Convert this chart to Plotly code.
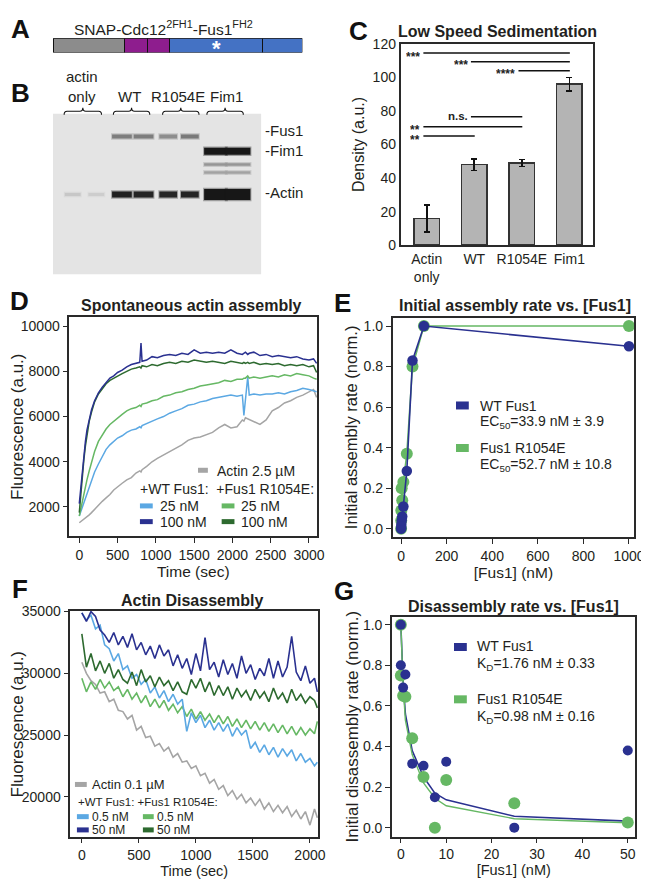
import plotly.graph_objects as go

W, H = 649, 879
FONT = "Liberation Sans, Arial, sans-serif"
INK = "#231f20"


def px(x):
    return x / W


def py(y):
    return 1 - y / H


# ---------------- DATA ----------------
# Panel A: construct domains (relative lengths)
domain_names = ["SNAP", "Cdc12 FH1 a", "Cdc12 FH1 b", "Fus1 FH2 a", "Fus1 FH2 b"]
domain_lengths = [72.6, 23.4, 22.6, 94.0, 40.7]
domain_colors = ["#8c8c8c", "#8e1d8e", "#8e1d8e", "#4472c4", "#4472c4"]

# Panel B: gel (lanes, bands)
lane_group_labels = ["actin<br>only", "WT", "R1054E", "Fim1"]
band_labels = ["-Fus1", "-Fim1", "-Actin"]
lane_x = [20, 44, 70, 92, 117, 139, 165, 188]
lane_w = [16, 16, 20, 20, 18, 18, 23, 25]
fus1_lanes = [2, 3, 4, 5]
fus1_strength = [0.50, 0.50, 0.42, 0.52]
fim1_lanes = [6, 7]
fim1_strength = [1.0, 1.0]
minor_lanes = [6, 7, 6, 7]
minor_rf = [52, 52, 60, 60]
minor_strength = [0.38, 0.38, 0.32, 0.32]
actin_lanes = [0, 1, 2, 3, 4, 5, 6, 7]
actin_strength = [0.14, 0.11, 0.95, 0.93, 0.92, 0.93, 1.0, 1.0]
rf_fus1, rf_fim1, rf_actin = 23.5, 38.5, 82.5

# Panel C: low speed sedimentation
c_labels = ["Actin<br>only", "WT", "R1054E", "Fim1"]
c_values = [16, 48, 49, 96]
c_err = [8, 3.5, 2, 4]
sig_text = ["***", "***", "****", "n.s.", "**", "**"]
sig_from = [0, 1, 2, 1, 0, 0]
sig_to = [3, 3, 3, 2, 2, 1]
sig_y = [114.5, 109.3, 104, 76.5, 70.6, 65]

# Panel D: spontaneous actin assembly (time in s, fluorescence a.u.)
t_d = [0, 20, 40, 60, 80, 100, 130, 160, 200, 250, 300, 350, 400, 450, 500, 560, 620, 680, 740, 790,
       806, 820, 880, 950, 1020, 1100, 1180, 1260, 1340, 1420, 1500, 1580, 1660, 1740, 1820, 1900,
       1980, 2060, 2130, 2150, 2170, 2200, 2220, 2280, 2360, 2440, 2520, 2600, 2680, 2760, 2840,
       2920, 3000, 3060, 3100]
d_actin = [1300, 1350, 1400, 1450, 1500, 1550, 1650, 1750, 1900, 2100, 2250, 2400, 2550, 2750, 2900,
           3050, 3200, 3300, 3500, 3600, 3550, 3650, 3800, 4000, 4150, 4300, 4450, 4600, 4750, 4950,
           5050, 5100, 5200, 5300, 5500, 5650, 5500, 5550, 5850, 5800, 5950, 5900, 5850, 5750, 5650,
           5850, 6250, 6400, 6600, 6700, 6850, 6950, 7100, 7200, 6850]
d_wt25 = [1600, 1800, 2050, 2250, 2400, 2600, 2900, 3200, 3550, 3900, 4250, 4550, 4750, 4900, 5050,
          5150, 5300, 5400, 5450, 5550, 5500, 5600, 5700, 5800, 5900, 6000, 6150, 6250, 6350, 6500,
          6550, 6650, 6700, 6800, 6850, 6900, 6950, 6900, 6950, 6050, 6900, 7750, 6950, 7000, 6950,
          7000, 7000, 7050, 7000, 7100, 7150, 7250, 7200, 7150, 7100]
d_wt100 = [2150, 2900, 3700, 4400, 4900, 5400, 5900, 6300, 6700, 7050, 7300, 7500, 7700, 7800, 7950,
           8050, 8200, 8300, 8350, 8400, 9250, 8450, 8500, 8650, 8600, 8700, 8750, 8700, 8800, 8750,
           8950, 8800, 8850, 8800, 8850, 8800, 8950, 8800, 8750, 8800, 8850, 8750, 8800, 8850, 8700,
           8750, 8650, 8700, 8650, 8600, 8650, 8550, 8500, 8550, 8350]
d_mut25 = [1600, 1950, 2300, 2600, 2900, 3200, 3600, 3950, 4450, 4900, 5200, 5450, 5650, 5800, 5950,
           6100, 6250, 6350, 6400, 6500, 6450, 6550, 6600, 6700, 6750, 6900, 6950, 7050, 7100, 7200,
           7250, 7350, 7400, 7450, 7500, 7600, 7550, 7650, 7650, 7700, 7700, 7800, 7700, 7750, 7700,
           7750, 7800, 7750, 7850, 7800, 7900, 7850, 7800, 7700, 7650]
d_mut100 = [1750, 2600, 3400, 4100, 4700, 5200, 5800, 6200, 6650, 7000, 7250, 7450, 7600, 7700, 7800,
            7900, 8000, 8100, 8150, 8200, 8150, 8250, 8200, 8300, 8250, 8350, 8400, 8350, 8450, 8400,
            8500, 8450, 8400, 8450, 8400, 8350, 8450, 8400, 8350, 8400, 8350, 8400, 8350, 8400, 8300,
            8350, 8300, 8350, 8250, 8300, 8250, 8300, 8200, 8250, 7950]

# Panel E: initial assembly rate vs [Fus1]
e_x = [0, 0.5, 1, 2.5, 5, 10, 25, 50, 100, 1000]
e_wt = [0.0, 0.005, 0.02, 0.04, 0.06, 0.11, 0.285, 0.83, 1.0, 0.90]
e_mut = [0.0, 0.04, 0.09, 0.20, 0.14, 0.23, 0.37, 0.80, 1.0, 1.0]

# Panel F: actin disassembly
t_f = [0, 40, 80, 120, 160, 200, 240, 280, 320, 360, 400, 440, 480, 520, 560, 600, 640, 680, 720, 760,
       800, 840, 880, 920, 960, 1000, 1040, 1080, 1120, 1160, 1200, 1240, 1280, 1320, 1360, 1400,
       1440, 1480, 1520, 1560, 1600, 1640, 1680, 1720, 1760, 1800, 1840, 1880, 1920, 1960, 2000,
       2040, 2065]
f_actin = [30900, 30000, 29400, 29100, 28400, 28500, 27700, 27900, 27000, 26900, 26300, 26600, 25400,
           25700, 24800, 24900, 24100, 24300, 23700, 24000, 23200, 23500, 22800, 22900, 22300, 22500,
           21700, 21900, 21100, 21400, 20600, 20900, 20100, 20500, 19800, 20200, 19500, 19900, 19300,
           19800, 19000, 19500, 18800, 19300, 18700, 19200, 18400, 18900, 18200, 18800, 17700, 19000,
           18300]
f_wt05 = [34900, 34300, 34700, 33600, 33900, 32300, 32000, 31000, 31600, 30300, 30600, 29600, 29900,
          29100, 29500, 28400, 28900, 28000, 28600, 27700, 28300, 27500, 27900, 25300, 26800, 26000,
          26600, 25600, 26200, 25400, 26000, 25300, 25900, 24900, 25600, 25000, 25400, 23900, 24400,
          23600, 24200, 23400, 24000, 23200, 23900, 23300, 23800, 22900, 23500, 22800, 23100, 22500,
          22800]
f_wt50 = [34900, 34200, 35000, 34600, 33500, 33100, 32500, 33300, 32300, 33000, 32100, 33200, 31900,
          32500, 31500, 32200, 31200, 32300, 31400, 31900, 30600, 31500, 30400, 31200, 29900, 31600,
          30200, 32900, 30300, 30900, 29700, 31100, 29900, 30800, 29600, 31400, 30000, 30700, 29500,
          30400, 29800, 31200, 29600, 31000, 29700, 30500, 33000, 30100, 29400, 30600, 29200, 29600,
          28500]
f_mut05 = [29600, 28500, 29300, 28700, 29500, 28800, 29300, 28600, 28900, 28100, 28700, 27900, 28400,
           27600, 28200, 27300, 27900, 27200, 27800, 27000, 27500, 26800, 27300, 26500, 27100, 26300,
           26900, 26200, 26700, 26000, 26600, 25900, 26500, 25700, 26300, 25600, 26200, 25500, 26100,
           25400, 26000, 25300, 25900, 25200, 25800, 25100, 25700, 25000, 25600, 25000, 25500, 25100,
           26100]
f_mut50 = [33200, 30500, 31600, 30200, 31000, 30000, 30800, 29600, 30300, 29500, 29200, 30100, 29000,
           30300, 29300, 29800, 28900, 29700, 29000, 29400, 28600, 29300, 28500, 28300, 29500, 28800,
           29600, 28500, 29300, 28200, 29000, 28200, 28900, 27900, 28800, 28100, 28600, 27800, 28700,
           28000, 28500, 27700, 28800, 27900, 28400, 27600, 28700, 27800, 28300, 27600, 28100, 27800,
           27200]

# Panel G: disassembly rate vs [Fus1]
g_x = [0, 0, 0.5, 1, 2.5, 5, 7.5, 10, 25, 50]
g_wt = [1.0, 0.80, 0.69, 0.755, 0.315, 0.305, 0.15, 0.325, 0.0, 0.38]
g_mut = [1.0, 0.75, 0.65, 0.645, 0.44, 0.25, 0.0, 0.235, 0.12, 0.025]
g_fit_x = [0, 0.5, 1, 2.5, 5, 7.5, 10, 25, 50]
g_fit_wt = [1.0, 0.72, 0.56, 0.38, 0.25, 0.17, 0.137, 0.056, 0.032]
g_fit_mut = [1.0, 0.70, 0.53, 0.36, 0.22, 0.145, 0.108, 0.044, 0.024]

# ---------------- STYLE ----------------
GRAY = "#a5a5a5"
LBLUE = "#5ba8e3"
DBLUE = "#2a3190"
LGREEN = "#66b864"
DGREEN = "#2d6a2f"
FRAME = "#2a2a2a"

fig = go.Figure()
annotations = []
shapes = []


def ann(text, x, y, size=14, bold=False, xanchor="center", yanchor="middle", color=INK, **kw):
    if bold:
        text = "<b>" + text + "</b>"
    annotations.append(dict(text=text, x=px(x), y=py(y), xref="paper", yref="paper",
                            showarrow=False, xanchor=xanchor, yanchor=yanchor,
                            font=dict(family=FONT, size=size, color=color), **kw))


def pill(x0, x1, y, color, width):
    shapes.append(dict(type="line", xref="paper", yref="paper", x0=px(x0), x1=px(x1),
                       y0=py(y), y1=py(y), line=dict(color=color, width=width)))


def axis(domain, rng, **kw):
    d = dict(domain=domain, range=rng, showline=True, mirror=True, linecolor=FRAME, linewidth=1.6,
             ticks="outside", ticklen=5, tickwidth=1.3, tickcolor=FRAME, showgrid=False,
             zeroline=False, tickfont=dict(family=FONT, size=14, color=INK))
    d.update(kw)
    return d


def xdom(a, b):
    return [px(a), px(b)]


def ydom(top, bottom):
    return [py(bottom), py(top)]


# ---------- Panel A: construct bar ----------
for name, length, col in zip(domain_names, domain_lengths, domain_colors):
    fig.add_trace(go.Bar(x=[length], y=[0], orientation="h", name=name,
                         marker=dict(color=col, line=dict(color="#111", width=1.3)),
                         width=1.0, xaxis="x6", yaxis="y6", hoverinfo="skip"))
star_x = sum(domain_lengths[:3]) + domain_lengths[3] / 2
annotations.append(dict(text="<b>*</b>", x=star_x, y=-0.18, xref="x6", yref="y6", showarrow=False,
                        font=dict(family=FONT, size=22, color="white"), xanchor="center", yanchor="middle"))
annotations.append(dict(text="(R1054E)", x=star_x, y=-1.55, xref="x6", yref="y6", showarrow=False,
                        font=dict(family=FONT, size=13, color="#333"), xanchor="center", yanchor="middle"))
ann("SNAP-Cdc12<sup>2FH1</sup>-Fus1<sup>FH2</sup>", 158, 12, size=15.5)

# ---------- Panel B: gel ----------
shapes.append(dict(type="rect", xref="x7", yref="y7", x0=0, x1=211.6, y0=0, y1=164,
                   fillcolor="#e4e4e4", line=dict(width=0), layer="below"))


def band(lane, rf, strength, thick):
    g = int(228 - strength * 205)
    col = "rgb(%d,%d,%d)" % (g, g, g)
    halo = "rgba(%d,%d,%d,0.35)" % (g, g, g)
    cx, w = lane_x[lane], lane_w[lane]
    fig.add_trace(go.Scatter(x=[cx - w / 2 - 1, cx + w / 2 + 1], y=[rf, rf], mode="lines",
                             line=dict(color=halo, width=thick + 2.5), xaxis="x7", yaxis="y7",
                             hoverinfo="skip"))
    fig.add_trace(go.Scatter(x=[cx - w / 2, cx + w / 2], y=[rf, rf], mode="lines",
                             line=dict(color=col, width=thick), xaxis="x7", yaxis="y7",
                             hoverinfo="skip"))


for ln, s in zip(fus1_lanes, fus1_strength):
    band(ln, rf_fus1, s, 4)
for ln, s in zip(fim1_lanes, fim1_strength):
    band(ln, rf_fim1, s, 7)
for ln, rf, s in zip(minor_lanes, minor_rf, minor_strength):
    band(ln, rf, s, 2.5)
for ln, s in zip(actin_lanes, actin_strength):
    band(ln, rf_actin, s, 11 if ln >= 6 else (6 if s > 0.5 else 3))

# braces above lane groups
brace_spans = [(57, 95), (107, 144), (157, 194), (202, 239)]
for (x0, x1) in brace_spans:
    xc = (x0 + x1) / 2
    yt, yb = 93.5, 100.5
    ym = (yt + yb) / 2
    r = 3
    pts = [("M", x0, yb), ("Q", x0, ym, x0 + r, ym), ("L", xc - r, ym), ("Q", xc, ym, xc, yt),
           ("Q", xc, ym, xc + r, ym), ("L", x1 - r, ym), ("Q", x1, ym, x1, yb)]
    path = ""
    for p in pts:
        cmd = p[0]
        coords = p[1:]
        segs = []
        for i in range(0, len(coords), 2):
            segs.append("%.5f,%.5f" % (px(coords[i]), py(coords[i + 1])))
        path += cmd + " " + " ".join(segs) + " "
    shapes.append(dict(type="path", xref="paper", yref="paper", path=path.strip(),
                       line=dict(color="#111", width=1.1)))

ann("actin", 75, 62, size=15)
ann("only", 75, 82, size=15)
ann(lane_group_labels[1], 123, 82, size=15)
ann(lane_group_labels[2], 173, 82, size=15)
ann(lane_group_labels[3], 222, 82, size=15)
ann(band_labels[0], 259, 117, size=15, xanchor="left")
ann(band_labels[1], 259, 137, size=15, xanchor="left")
ann(band_labels[2], 259, 180, size=15, xanchor="left")

# ---------- Panel C: bars ----------
cx = list(range(len(c_labels)))
fig.add_trace(go.Bar(x=cx, y=c_values, width=0.54,
                     marker=dict(color="#b4b4b4", line=dict(color="#333", width=1.5)),
                     error_y=dict(type="data", array=c_err, color="#111", thickness=1.6, width=3),
                     xaxis="x", yaxis="y", hoverinfo="skip"))
sx, sy = [], []
for a, b, yv, txt in zip(sig_from, sig_to, sig_y, sig_text):
    sx += [a - 0.07, b + 0.01, None]
    sy += [yv, yv, None]
    annotations.append(dict(text="<b>" + txt + "</b>", x=a - 0.1, y=yv, xref="x", yref="y", showarrow=False,
                            xanchor="right", yanchor="middle", yshift=(-3 if "*" in txt else 1),
                            height=9,
                            font=dict(family=FONT, size=(12 if "*" in txt else 11.5), color="#222")))
fig.add_trace(go.Scatter(x=sx, y=sy, mode="lines", line=dict(color="#111", width=1.5), xaxis="x", yaxis="y",
                         hoverinfo="skip"))

# ---------- Panel D ----------
for yv, col in [(d_actin, GRAY), (d_wt25, LBLUE), (d_mut25, LGREEN), (d_mut100, DGREEN), (d_wt100, DBLUE)]:
    fig.add_trace(go.Scatter(x=t_d, y=yv, mode="lines", line=dict(color=col, width=1.5),
                             xaxis="x2", yaxis="y2", hoverinfo="skip"))
pill(193, 203, 462.7, GRAY, 5)
ann("Actin 2.5 µM", 210, 463, size=14, xanchor="left")
ann("+WT Fus1:  +Fus1 R1054E:", 132.5, 481.7, size=14, xanchor="left")
pill(134, 147, 499, LBLUE, 5)
ann("25 nM", 152, 499, size=14, xanchor="left")
pill(134, 147, 515, DBLUE, 5)
ann("100 nM", 152, 515, size=14, xanchor="left")
pill(217, 230, 499, LGREEN, 5)
ann("25 nM", 235, 499, size=14, xanchor="left")
pill(217, 230, 515, DGREEN, 5)
ann("100 nM", 235, 515, size=14, xanchor="left")

# ---------- Panel E ----------
fig.add_trace(go.Scatter(x=e_x, y=e_mut, mode="lines+markers", line=dict(color=LGREEN, width=1.6),
                         marker=dict(color=LGREEN, size=12), xaxis="x3", yaxis="y3", hoverinfo="skip"))
fig.add_trace(go.Scatter(x=e_x, y=e_wt, mode="lines+markers", line=dict(color=DBLUE, width=1.6),
                         marker=dict(color=DBLUE, size=10.5), xaxis="x3", yaxis="y3", hoverinfo="skip"))
pill(455, 468, 396.7, DBLUE, 8)
ann("WT Fus1", 477.5, 397, size=14, xanchor="left")
ann("EC<sub>50</sub>=33.9 nM ± 3.9", 477.5, 414, size=14, xanchor="left")
pill(455, 468, 440, LGREEN, 8)
ann("Fus1 R1054E", 477.5, 440, size=14, xanchor="left")
ann("EC<sub>50</sub>=52.7 nM ± 10.8", 477.5, 457, size=14, xanchor="left")

# ---------- Panel F ----------
for yv, col in [(f_actin, GRAY), (f_mut05, LGREEN), (f_wt05, LBLUE), (f_mut50, DGREEN), (f_wt50, DBLUE)]:
    fig.add_trace(go.Scatter(x=t_f, y=yv, mode="lines", line=dict(color=col, width=1.6),
                             xaxis="x4", yaxis="y4", hoverinfo="skip"))
pill(68, 80, 782.7, GRAY, 5)
ann("Actin 0.1 µM", 83, 782.7, size=13, xanchor="left")
ann("+WT Fus1: +Fus1 R1054E:", 69.5, 801, size=11.5, xanchor="left")
pill(70, 82, 815.5, LBLUE, 5)
ann("0.5 nM", 83, 815.5, size=12, xanchor="left")
pill(70, 82, 829, DBLUE, 5)
ann("50 nM", 83, 829, size=12, xanchor="left")
pill(137, 148, 815.5, LGREEN, 5)
ann("0.5 nM", 149.5, 815.5, size=12, xanchor="left")
pill(137, 148, 829, DGREEN, 5)
ann("50 nM", 149.5, 829, size=12, xanchor="left")

# ---------- Panel G ----------
fig.add_trace(go.Scatter(x=g_fit_x, y=g_fit_wt, mode="lines", line=dict(color=DBLUE, width=1.6),
                         xaxis="x5", yaxis="y5", hoverinfo="skip"))
fig.add_trace(go.Scatter(x=g_fit_x, y=g_fit_mut, mode="lines", line=dict(color=LGREEN, width=1.4),
                         xaxis="x5", yaxis="y5", hoverinfo="skip"))
fig.add_trace(go.Scatter(x=g_x, y=g_mut, mode="markers", marker=dict(color=LGREEN, size=12),
                         xaxis="x5", yaxis="y5", hoverinfo="skip"))
fig.add_trace(go.Scatter(x=g_x, y=g_wt, mode="markers", marker=dict(color=DBLUE, size=10),
                         xaxis="x5", yaxis="y5", hoverinfo="skip"))
pill(453, 466, 642.7, DBLUE, 8)
ann("WT Fus1", 474, 642, size=14, xanchor="left")
ann("K<sub>D</sub>=1.76 nM ± 0.33", 474, 660, size=14, xanchor="left")
pill(453, 466, 696, LGREEN, 8)
ann("Fus1 R1054E", 474, 696, size=14, xanchor="left")
ann("K<sub>D</sub>=0.98 nM ± 0.16", 474, 714, size=14, xanchor="left")

# ---------- Panel titles and letters ----------
ann("Low Speed Sedimentation", 496.7, 15.5, size=16, bold=True)
ann("Spontaneous actin assembly", 186.7, 295, size=16, bold=True)
ann("Initial assembly rate vs. [Fus1]", 515, 295, size=16, bold=True)
ann("Actin Disassembly", 187, 595, size=16, bold=True)
ann("Disassembly rate vs. [Fus1]", 513, 601.5, size=16, bold=True)
for letter, x, y in [("A", 12.7, 13), ("B", 12.7, 78), ("C", 355.5, 15), ("D", 12, 290),
                     ("E", 340, 292), ("F", 12, 584), ("G", 341, 586)]:
    ann(letter, x, y, size=26, bold=True, color="#111")

title_font = dict(family=FONT, size=16, color=INK)
xt_font = dict(family=FONT, size=15.5, color=INK)
bottom_font = dict(family=FONT, size=14.5, color=INK)

fig.update_layout(
    width=W, height=879, margin=dict(l=0, r=0, t=0, b=0),
    paper_bgcolor="white", plot_bgcolor="white", showlegend=False, barmode="stack",
    hovermode=False,
    font=dict(family=FONT, color=INK),
    # C
    xaxis=axis(xdom(398.7, 594.3), [-0.55, 3.5], tickvals=cx, ticktext=c_labels, ticks=""),
    yaxis=axis(ydom(28.3, 233.5), [0, 120], dtick=20, ticks="",
               title=dict(text="Density (a.u.)", font=title_font, standoff=4)),
    # D
    xaxis2=axis(xdom(62.3, 314), [-130, 3107], dtick=500, anchor="y2",
                title=dict(text="Time (sec)", font=xt_font, standoff=1)),
    yaxis2=axis(ydom(306.7, 530), [700, 10400], tickvals=[2000, 4000, 6000, 8000, 10000],
                tickformat="d", anchor="x2",
                title=dict(text="Fluorescence (a.u.)", font=dict(family=FONT, size=17, color=INK), standoff=0)),
    # E
    xaxis3=axis(xdom(390.7, 636), [-37, 1023], dtick=200, anchor="y3",
                title=dict(text="[Fus1] (nM)", font=xt_font, standoff=1)),
    yaxis3=axis(ydom(307.3, 530.7), [-0.041, 1.041], tickvals=[0, 0.2, 0.4, 0.6, 0.8, 1.0], tickformat=".1f",
                anchor="x3",
                title=dict(text="Initial assembly rate (norm.)", font=dict(family=FONT, size=16.5, color=INK),
                           standoff=2)),
    # F
    xaxis4=axis(xdom(63.3, 315), [-101, 2072], dtick=500, anchor="y4", ticklen=4,
                title=dict(text="Time (sec)", font=bottom_font, standoff=0)),
    yaxis4=axis(ydom(606, 836.7), [16700, 35050], tickvals=[20000, 25000, 30000, 35000], tickformat="d",
                anchor="x4",
                title=dict(text="Fluorescence (a.u.)", font=dict(family=FONT, size=17, color=INK), standoff=0)),
    # G
    xaxis5=axis(xdom(390, 637.3), [-1.95, 51.7], dtick=10, anchor="y5", ticklen=4,
                title=dict(text="[Fus1] (nM)", font=bottom_font, standoff=0)),
    yaxis5=axis(ydom(611.7, 836), [-0.045, 1.04], tickvals=[0, 0.2, 0.4, 0.6, 0.8, 1.0], tickformat=".1f",
                anchor="x5",
                title=dict(text="Initial disassembly rate (norm.)", font=dict(family=FONT, size=17, color=INK),
                           standoff=0)),
    # A construct bar
    xaxis6=dict(domain=xdom(45.7, 299), range=[0, sum(domain_lengths)], visible=False, anchor="y6"),
    yaxis6=dict(domain=ydom(22.7, 37.3), range=[-0.5, 0.5], visible=False, anchor="x6"),
    # B gel
    xaxis7=dict(domain=xdom(45.7, 257.3), range=[0, 211.6], visible=False, anchor="y7"),
    yaxis7=dict(domain=ydom(99.3, 263.3), range=[164, 0], visible=False, anchor="x7"),
    annotations=annotations,
    shapes=shapes,
)

fig.write_html("out.html")
